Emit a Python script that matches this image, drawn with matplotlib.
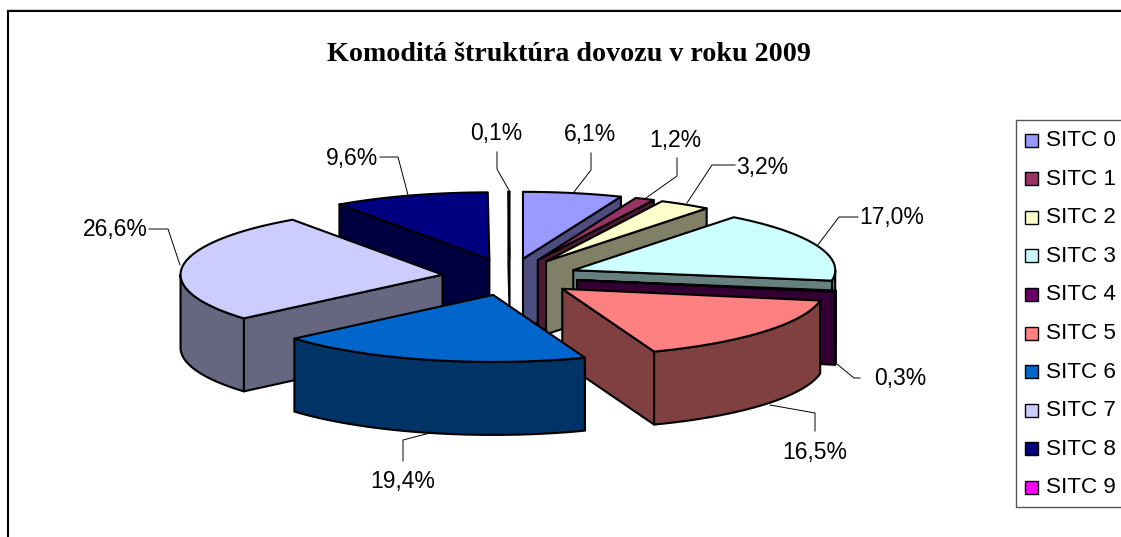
import numpy as np
import matplotlib
matplotlib.use("Agg")
from matplotlib import pyplot as plt
from matplotlib.patches import Polygon, Rectangle

categories = ["SITC 0", "SITC 1", "SITC 2", "SITC 3", "SITC 4",
              "SITC 5", "SITC 6", "SITC 7", "SITC 8", "SITC 9"]
values = [6.1, 1.2, 3.2, 17.0, 0.3, 16.5, 19.4, 26.6, 9.6, 0.1]
colors = ["#9999FF", "#993366", "#FFFFCC", "#CCFFFF", "#660066",
          "#FF8080", "#0066CC", "#CCCCFF", "#000080", "#FF00FF"]
side_colors = ["#4D4D80", "#4D1A33", "#808066", "#668080", "#330033",
               "#804040", "#003366", "#666680", "#000040", "#800080"]
title = "Komoditá štruktúra dovozu v roku 2009"

# pie geometry in pixels
cx, cy = 510, 277
rx, ry = 262, 67
ex, ey = 68, 18.5
depth = 73
draw_order = [8, 9, 0, 1, 2, 3, 4, 7, 5, 6]

# label centre, then the leader line
label_pos = [(590, 134.5), (675, 140.5), (762, 167.5), (892, 217.5), (900, 378.5),
             (815, 452.5), (403, 481.5), (115, 229.5), (352, 158.5), (496, 133.5)]
leaders = [
    [(591, 153), (591, 170), (574, 192)],
    [(677, 158), (677, 176), (646, 198)],
    [(735, 165), (712, 165), (687, 203)],
    [(858, 217), (839, 217), (817, 246)],
    [(860, 378), (854, 378), (837, 364)],
    [(770, 405), (815, 413), (815, 431)],
    [(403, 461), (403, 440), (430, 433)],
    [(149, 229), (168, 229), (180, 265)],
    [(380, 157), (398, 157), (408, 195)],
    [(497, 152), (497, 169), (510, 192)],
]


def rim(ax_, ay_, t):
    """point on the outer edge, angle t clockwise from 12 o'clock"""
    return ax_ + rx * np.sin(t), ay_ - ry * np.cos(t)


def draw_slice(ax, start, end, color, side):
    mid = (start + end) / 2
    ax_, ay_ = cx + ex * np.sin(mid), cy - ey * np.cos(mid)
    # the 0,1% slice is only a line, two outlines would make it too fat
    lw = 1.5 if end - start > 0.01 else 1.1

    # cut faces, only those turned to the viewer
    for t, visible in ((start, np.sin(start) < 0), (end, np.sin(end) > 0)):
        if visible:
            px, py = rim(ax_, ay_, t)
            ax.add_patch(Polygon([(ax_, ay_), (px, py), (px, py + depth), (ax_, ay_ + depth)],
                                 fc=side, ec="black", lw=lw, joinstyle="round"))

    # outer wall, only the front half of the rim
    lo, hi = max(start, np.pi / 2), min(end, 3 * np.pi / 2)
    if hi > lo:
        ts = np.linspace(lo, hi, 80)
        px, py = rim(ax_, ay_, ts)
        wall = np.r_[np.c_[px, py], np.c_[px, py + depth][::-1]]
        ax.add_patch(Polygon(wall, fc=side, ec="black", lw=lw, joinstyle="round"))

    ts = np.linspace(start, end, 120)
    px, py = rim(ax_, ay_, ts)
    top = np.r_[[(ax_, ay_)], np.c_[px, py]]
    ax.add_patch(Polygon(top, fc=color, ec="black", lw=lw, joinstyle="round"))


fig = plt.figure(figsize=(11.21, 5.37), dpi=100)
ax = fig.add_axes([0, 0, 1, 1])
ax.set_xlim(0, 1121)
ax.set_ylim(537, 0)
ax.axis("off")

# chart frame runs off the picture on the right and at the bottom
ax.plot([7, 1121], [8.5, 8.5], color="#CCCCCC", lw=0.8)
ax.add_patch(Rectangle((7.5, 10.5), 1130, 540, fc="white", ec="black", lw=1.5))

ax.text(569, 54.5, title, ha="center", va="center", family="Liberation Serif",
        weight="bold", fontsize=20.2)

edges = np.cumsum([0] + values) / sum(values) * 2 * np.pi
for i in draw_order:
    draw_slice(ax, edges[i], edges[i + 1], colors[i], side_colors[i])

for i, v in enumerate(values):
    xs, ys = zip(*leaders[i])
    ax.plot(xs, ys, color="black", lw=0.7)
    s = f"{v:.1f}%".replace(".", ",")
    ax.text(*label_pos[i], s, ha="center", va="center",
            family="Liberation Sans", fontsize=16.5)

# legend
ax.add_patch(Rectangle((1016, 120), 130, 387, fc="white", ec="#555555", lw=1))
for i, name in enumerate(categories):
    y = 139.5 + i * 38.6
    ax.add_patch(Rectangle((1025, y - 6), 13, 13, fc=colors[i], ec="black", lw=1))
    ax.text(1046, y + 1, name, ha="left", va="center",
            family="Liberation Sans", fontsize=16.2)

fig.savefig("out.png", dpi=100)
